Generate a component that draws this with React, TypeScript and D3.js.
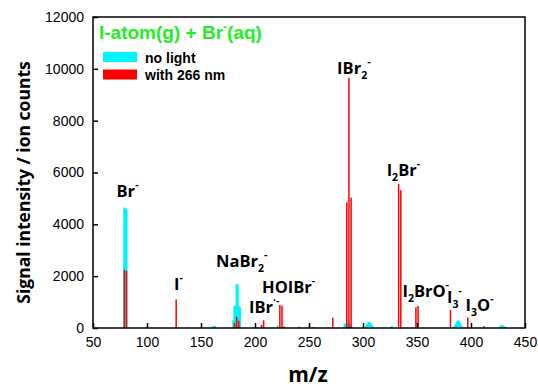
import React, { useEffect, useRef } from 'react';
import * as d3 from 'd3';

// m/z positions and ion counts
const noLightMz = [79, 80, 81, 161, 163, 180, 181, 182, 183, 184, 185, 186, 206, 221,
  283, 284, 285, 286, 287, 288, 289, 303, 304, 305, 306, 307, 308, 309, 326, 327,
  385, 386, 387, 388, 389, 390, 391, 427, 428, 429, 430, 431];
const noLightCounts = [4650, 4620, 4560, 70, 90, 300, 850, 870, 1700, 1650, 850, 800, 60, 90,
  150, 180, 190, 170, 180, 150, 120, 100, 170, 240, 230, 190, 120, 60, 50, 60,
  80, 160, 250, 290, 260, 180, 90, 60, 110, 100, 80, 50];

const uvMz = [79, 81, 127, 181, 183, 185, 206, 208, 223, 225, 227, 241, 254, 272,
  285, 287, 289, 333, 335, 349, 351, 381, 397, 412, 432];
const uvCounts = [2250, 2200, 1100, 200, 430, 280, 120, 300, 890, 860, 60, 50, 30, 400,
  4850, 9650, 5030, 5560, 5320, 800, 850, 690, 410, 70, 40];

const xTicks = [50, 100, 150, 200, 250, 300, 350, 400, 450];
const yTicks = [0, 2000, 4000, 6000, 8000, 10000, 12000];

const seriesNames = ['no light', 'with 266 nm'];
const seriesColors = ['#00f4ff', '#ff0000'];

// peak labels: text parts ('n' normal, 'sub', 'sup'), left edge in m/z, baseline in counts
const peakLabels: { parts: [string, string][]; mz: number; y: number }[] = [
  { parts: [['Br', 'n'], ['-', 'sup']], mz: 71.8, y: 5050 },
  { parts: [['I', 'n'], ['-', 'sup']], mz: 125, y: 1450 },
  { parts: [['NaBr', 'n'], ['2', 'sub'], ['-', 'sup']], mz: 163.9, y: 2350 },
  { parts: [['IBr', 'n'], ['·-', 'sup']], mz: 194.4, y: 580 },
  { parts: [['HOIBr', 'n'], ['-', 'sup']], mz: 206.5, y: 1350 },
  { parts: [['IBr', 'n'], ['2', 'sub'], ['-', 'sup']], mz: 276, y: 9800 },
  { parts: [['I', 'n'], ['2', 'sub'], ['Br', 'n'], ['-', 'sup']], mz: 321.9, y: 5880 },
  { parts: [['I', 'n'], ['2', 'sub'], ['BrO', 'n'], ['-', 'sup']], mz: 336.5, y: 1210 },
  { parts: [['I', 'n'], ['3', 'sub'], ['-', 'sup']], mz: 377.8, y: 960 },
  { parts: [['I', 'n'], ['3', 'sub'], ['O', 'n'], ['-', 'sup']], mz: 395, y: 660 },
];

export default function App() {
  const ref = useRef<SVGSVGElement>(null);

  useEffect(() => {
    const svg = d3.select(ref.current);
    svg.selectAll('*').remove();
    const width = 538, height = 388;
    const margin = { top: 17, right: 13, bottom: 60, left: 93 };

    const x = d3.scaleLinear().domain([50, 450]).range([margin.left, width - margin.right]);
    const y = d3.scaleLinear().domain([0, 12000]).range([height - margin.bottom, margin.top]);

    const tickFont = 'Arial, "Liberation Sans", sans-serif';
    const boldFont = '"Open Sans", Lato, sans-serif';

    // spectra: no light underneath, 266 nm on top
    const series = [
      { mz: noLightMz, counts: noLightCounts, color: seriesColors[0], w: 2.2 },
      { mz: uvMz, counts: uvCounts, color: seriesColors[1], w: 1.5 },
    ];
    series.forEach(s => {
      svg.append('g').selectAll('rect')
        .data(s.mz.map((m, i) => ({ m, c: s.counts[i] })))
        .enter().append('rect')
        .attr('x', d => x(d.m) - s.w / 2)
        .attr('y', d => y(d.c))
        .attr('width', s.w)
        .attr('height', d => y(0) - y(d.c))
        .attr('fill', s.color);
    });

    // axes with inward ticks
    const gx = svg.append('g').attr('transform', `translate(0,${y(0)})`)
      .call(d3.axisBottom(x).tickValues(xTicks).tickSizeInner(-5).tickSizeOuter(0).tickPadding(9));
    const gy = svg.append('g').attr('transform', `translate(${margin.left},0)`)
      .call(d3.axisLeft(y).tickValues(yTicks).tickFormat(d3.format('d')).tickSizeInner(-5).tickSizeOuter(0).tickPadding(9));
    [gx, gy].forEach(g => {
      g.select('.domain').remove();
      g.selectAll('line').attr('stroke', '#000').attr('stroke-width', 1.5);
      g.selectAll('text').attr('font-family', tickFont).attr('font-size', 14).attr('fill', '#000');
    });

    svg.append('rect')
      .attr('x', margin.left).attr('y', margin.top)
      .attr('width', width - margin.left - margin.right)
      .attr('height', height - margin.top - margin.bottom)
      .attr('fill', 'none').attr('stroke', '#000').attr('stroke-width', 1.5);

    // axis titles
    svg.append('text')
      .attr('transform', `translate(30,${(y(0) + y(12000)) / 2 + 10}) rotate(-90)`)
      .attr('text-anchor', 'middle')
      .attr('font-family', boldFont).attr('font-weight', 'bold').attr('font-size', 17.5)
      .text('Signal intensity / ion counts');
    svg.append('text')
      .attr('x', 308).attr('y', 382)
      .attr('text-anchor', 'middle')
      .attr('font-family', boldFont).attr('font-weight', 'bold').attr('font-size', 21)
      .text('m/z');

    // title
    const title = svg.append('text')
      .attr('x', 99).attr('y', 39)
      .attr('font-family', tickFont).attr('font-weight', 'bold').attr('font-size', 19)
      .attr('fill', '#22ee22');
    title.append('tspan').text('I-atom(g) + Br');
    title.append('tspan').attr('dy', -8).attr('font-size', 12).text('-');
    title.append('tspan').attr('dy', 8).text('(aq)');

    // legend
    seriesNames.forEach((name, i) => {
      const ly = 52 + i * 17.5;
      svg.append('rect').attr('x', 103).attr('y', ly).attr('width', 34).attr('height', 10)
        .attr('fill', seriesColors[i]);
      svg.append('text').attr('x', 145).attr('y', ly + 10.5)
        .attr('font-family', tickFont).attr('font-weight', 'bold').attr('font-size', 14)
        .text(name);
    });

    // peak labels
    peakLabels.forEach(l => {
      const t = svg.append('text')
        .attr('x', x(l.mz)).attr('y', y(l.y))
        .attr('font-family', boldFont).attr('font-weight', 'bold').attr('font-size', 16.5);
      let shift = 0;
      l.parts.forEach(([s, kind]) => {
        const target = kind === 'sub' ? 5 : kind === 'sup' ? -9 : 0;
        const sp = t.append('tspan').attr('dy', target - shift).text(s);
        if (kind !== 'n') sp.attr('font-size', 10.5);
        shift = target;
      });
    });
  }, []);

  return (
    <svg ref={ref} width={538} height={388}
      style={{ position: 'absolute', left: 0, top: 0, background: '#fff' }} />
  );
}
